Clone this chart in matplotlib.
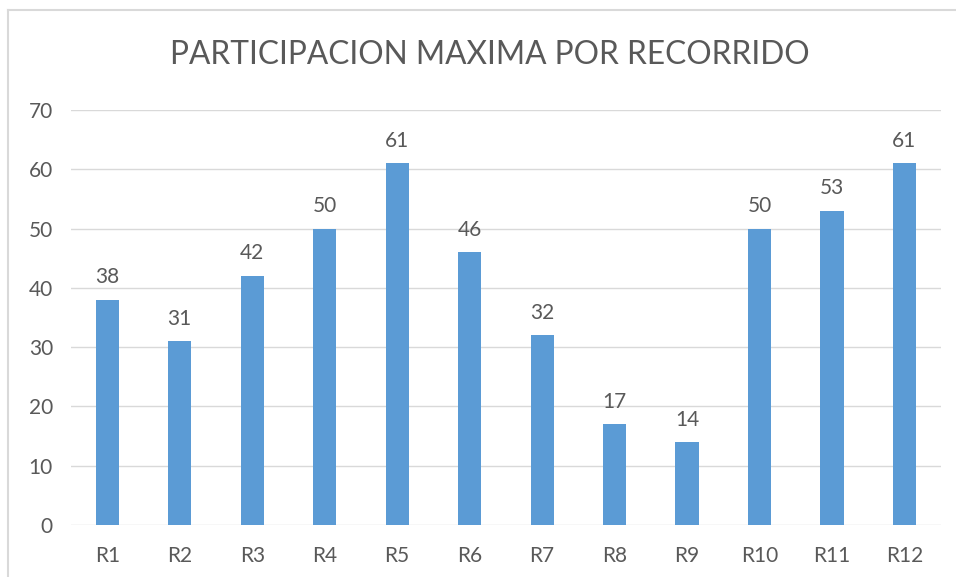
import matplotlib.pyplot as plt
import numpy as np

categorias = ["R1", "R2", "R3", "R4", "R5", "R6", "R7", "R8", "R9", "R10", "R11", "R12"]
valores = [38, 31, 42, 50, 61, 46, 32, 17, 14, 50, 53, 61]
ticks_y = [0, 10, 20, 30, 40, 50, 60, 70]

plt.rcParams['font.family'] = ['Lato', 'DejaVu Sans']
gris = '#595959'

fig = plt.figure(figsize=(9.56, 5.77), dpi=100)
ax = fig.add_axes([0.0743, 0.0901, 0.9097, 0.7193])

x = np.arange(len(categorias))
ax.bar(x, valores, width=0.32, color='#5B9BD5', zorder=3)
for xi, v in zip(x, valores):
    ax.annotate(str(v), (xi, v), xytext=(0, 9), textcoords='offset points',
                ha='center', va='bottom', fontsize=15, color=gris)

ax.set_xlim(-0.5, len(categorias) - 0.5)
ax.set_ylim(0, 70)
ax.set_yticks(ticks_y)
ax.set_xticks(x)
ax.set_xticklabels(categorias)
ax.grid(axis='y', color='#D9D9D9', linewidth=1, zorder=0)
for s in ax.spines.values():
    s.set_visible(False)
ax.tick_params(length=0, labelsize=15, labelcolor=gris)
ax.tick_params(axis='x', pad=15)
ax.tick_params(axis='y', pad=13)

fig.text(0.512, 0.905, "PARTICIPACION MAXIMA POR RECORRIDO", ha='center', va='center',
         fontsize=22.8, color=gris)

# marco del grafico (recortado a la derecha y abajo)
fig.add_artist(plt.Line2D([8 / 956, 8 / 956], [0, 1 - 10 / 577], color='#D9D9D9', lw=1.5))
fig.add_artist(plt.Line2D([8 / 956, 1], [1 - 10 / 577, 1 - 10 / 577], color='#D9D9D9', lw=1.5))

fig.savefig('out.png', dpi=100)
